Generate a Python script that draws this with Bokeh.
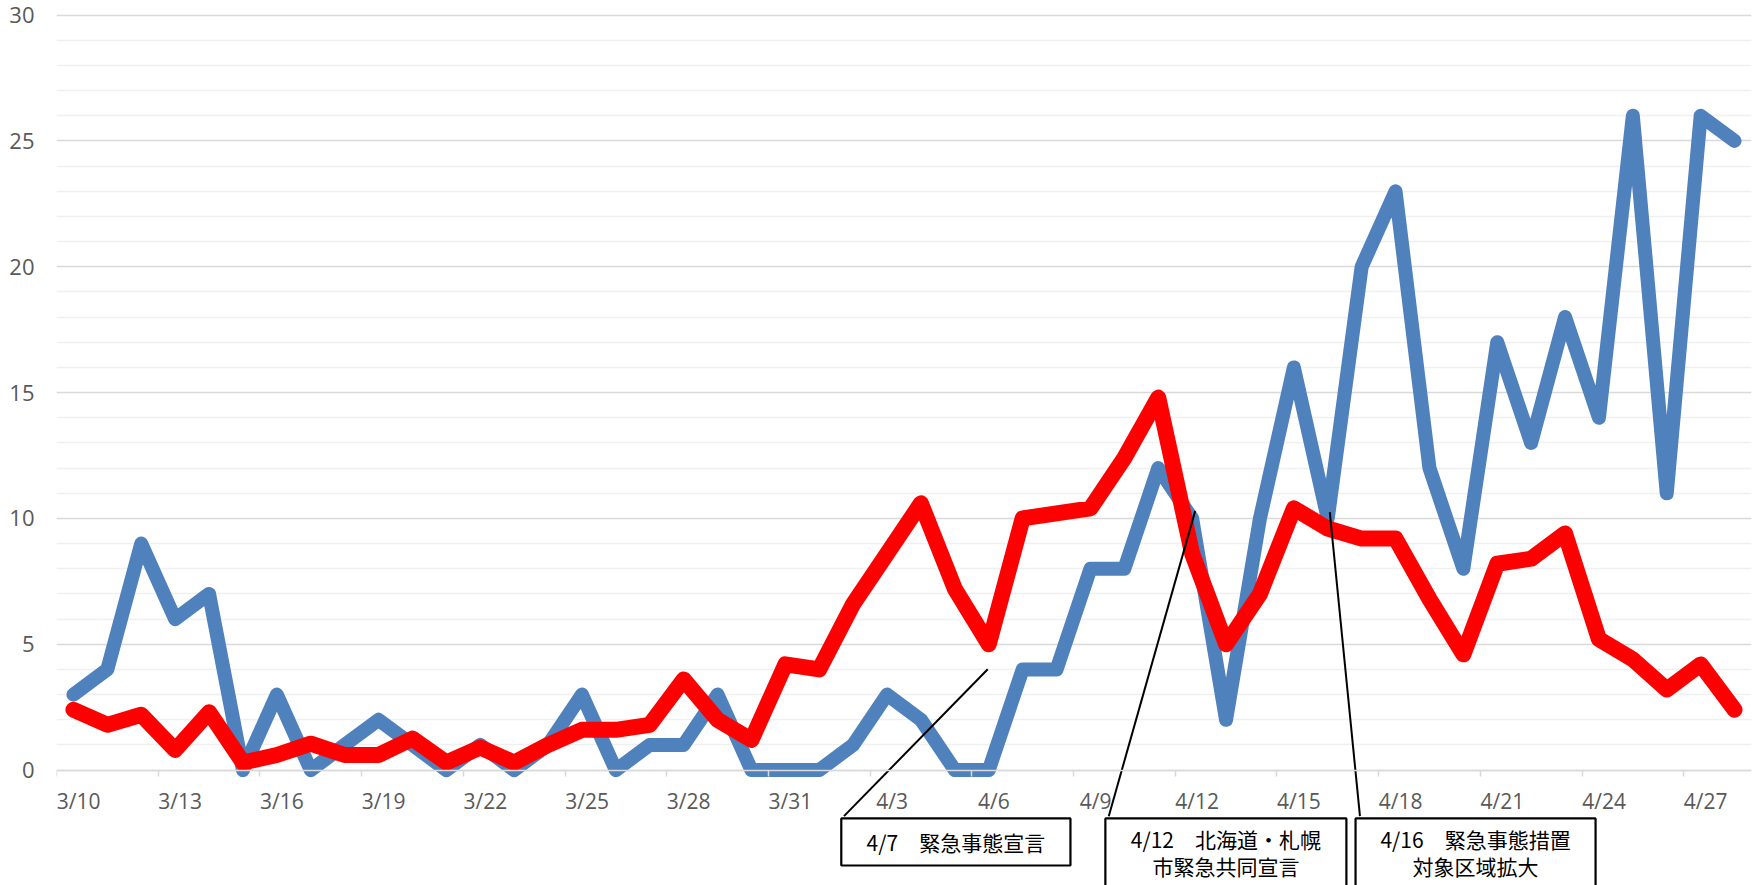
from bokeh.plotting import figure
from bokeh.models import FixedTicker, Range1d, ColumnDataSource
from bokeh.embed import file_html
from bokeh.resources import INLINE
from bokeh.core.properties import value

# ---- data ----
dates = ["3/10", "3/11", "3/12", "3/13", "3/14", "3/15", "3/16", "3/17", "3/18", "3/19",
         "3/20", "3/21", "3/22", "3/23", "3/24", "3/25", "3/26", "3/27", "3/28", "3/29",
         "3/30", "3/31", "4/1", "4/2", "4/3", "4/4", "4/5", "4/6", "4/7", "4/8",
         "4/9", "4/10", "4/11", "4/12", "4/13", "4/14", "4/15", "4/16", "4/17", "4/18",
         "4/19", "4/20", "4/21", "4/22", "4/23", "4/24", "4/25", "4/26", "4/27", "4/28"]
daily = [3, 4, 9, 6, 7, 0, 3, 0, 1, 2,
         1, 0, 1, 0, 1, 3, 0, 1, 1, 3,
         0, 0, 0, 1, 3, 2, 0, 0, 4, 4,
         8, 8, 12, 10, 2, 10, 16, 10, 20, 23,
         12, 8, 17, 13, 18, 14, 26, 11, 26, 25]
red_series = [2.4, 1.8, 2.2, 0.8, 2.3, 0.3, 0.6, 1.05, 0.6, 0.6,
              1.25, 0.3, 0.9, 0.3, 1.0, 1.6, 1.6, 1.8, 3.6, 2.0,
              1.2, 4.2, 4.0, 6.6, 8.6, 10.6, 7.2, 5.0, 10.0, 10.2,
              10.4, 12.4, 14.8, 8.6, 5.0, 7.0, 10.4, 9.6, 9.2, 9.2,
              6.8, 4.6, 8.2, 8.4, 9.4, 5.2, 4.4, 3.2, 4.2, 2.4]
y_major = [0, 5, 10, 15, 20, 25, 30]
y_minor = [v for v in range(1, 30) if v % 5 != 0]
label_every = 3

notes = [
    {"lines": ["4/7\u3000緊急事態宣言"]},
    {"lines": ["4/12\u3000北海道・札幌", "市緊急共同宣言"]},
    {"lines": ["4/16\u3000緊急事態措置", "対象区域拡大"]},
]

# ---- figure ----
W, H = 1759, 885
x_idx = list(range(len(dates)))

p = figure(width=W, height=H, output_backend="svg", toolbar_location=None,
           x_range=Range1d(-0.5, len(dates) - 0.5), y_range=Range1d(-4.585, 30.58),
           min_border_left=56, min_border_right=8, min_border_top=0, min_border_bottom=0)
p.outline_line_color = None
p.background_fill_color = "white"
p.border_fill_color = "white"
p.xgrid.visible = False

# y axis
p.yaxis.ticker = FixedTicker(ticks=y_major)
p.yaxis.axis_line_color = None
p.yaxis.major_tick_line_color = None
p.yaxis.minor_tick_line_color = None
p.yaxis.major_tick_out = 0
p.yaxis.major_tick_in = 0
p.yaxis.major_label_standoff = 22
p.yaxis.major_label_text_font = "Open Sans"
p.yaxis.major_label_text_font_size = "22px"
p.yaxis.major_label_text_color = "#595959"

p.ygrid.ticker = FixedTicker(ticks=y_major, minor_ticks=y_minor)
p.ygrid.grid_line_color = "#d9d9d9"
p.ygrid.grid_line_width = 1.5
p.ygrid.minor_grid_line_color = "#f0f0f0"
p.ygrid.minor_grid_line_width = 1.5

# x axis at y = 0 (labels sit a hair right of each category, as in the original)
major_x = [round(i + 0.15, 2) for i in range(0, len(dates), label_every)]
minor_x = [i - 0.5 for i in range(0, len(dates) + 1, label_every)]
p.xaxis.ticker = FixedTicker(ticks=major_x, minor_ticks=minor_x)
p.xaxis.major_label_overrides = {t: dates[i] for t, i in zip(major_x, range(0, len(dates), label_every))}
p.xaxis.fixed_location = 0
p.xaxis.axis_line_color = "#d9d9d9"
p.xaxis.axis_line_width = 1.5
p.xaxis.major_tick_line_color = None
p.xaxis.major_tick_out = 0
p.xaxis.major_tick_in = 0
p.xaxis.minor_tick_line_color = "#d9d9d9"
p.xaxis.minor_tick_line_width = 1.5
p.xaxis.minor_tick_out = 6
p.xaxis.minor_tick_in = 0
p.xaxis.major_label_standoff = 11
p.xaxis.major_label_text_font = "Open Sans"
p.xaxis.major_label_text_font_size = "21px"
p.xaxis.major_label_text_color = "#595959"

# ---- series ----
src = ColumnDataSource(dict(x=x_idx, daily=daily, red=red_series))
p.line("x", "daily", source=src, line_color="#4f81bd", line_width=14,
       line_join="round", line_cap="round")
p.line("x", "red", source=src, line_color="#ff0000", line_width=16,
       line_join="round", line_cap="round")

# ---- annotations ----
box_l = [22.65, 30.44, 37.82]
box_r = [29.41, 37.55, 44.90]
box_t = [-1.92, -1.92, -1.92]
box_b = [-3.79, -4.75, -4.75]
p.quad(left=box_l, right=box_r, top=box_t, bottom=box_b,
       fill_color="white", line_color="black", line_width=2.2)

p.segment(x0=[22.73, 30.54, 37.95], y0=[-1.83, -1.83, -1.83],
          x1=[26.97, 33.09, 37.06], y1=[4.01, 10.30, 10.25],
          line_color="black", line_width=2)

tx, ty, tt = [], [], []
line_y = {1: [-2.84], 2: [-2.72, -3.83]}
for k, n in enumerate(notes):
    cx = (box_l[k] + box_r[k]) / 2
    ys = line_y[len(n["lines"])]
    for s, yy in zip(n["lines"], ys):
        tx.append(cx)
        ty.append(yy)
        tt.append(s)
p.text(x=tx, y=ty, text=tt, text_font=value("Noto Sans CJK JP"),
       text_font_size="21px", text_align="center", text_baseline="middle",
       text_color="black")

open("out.html", "w").write(file_html(p, INLINE))
